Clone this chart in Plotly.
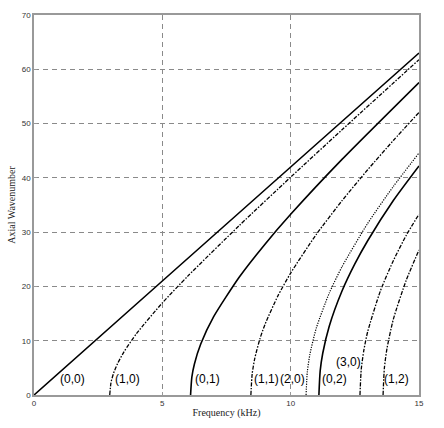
import plotly.graph_objects as go

# Axial wavenumber curves (frequency in kHz)
f_00 = [0.0, 5.0, 10.0, 15.0]
k_00 = [0.0, 21.0, 42.0, 63.0]

f_10 = [2.95, 3.0, 3.1, 3.25, 3.5, 4.0, 5.0, 6.0, 8.0, 10.0, 12.0, 15.0]
k_10 = [0.0, 2.29, 4.0, 5.73, 7.91, 11.35, 16.96, 21.94, 31.23, 40.13, 48.85, 61.77]

f_01 = [6.1, 6.15, 6.25, 6.5, 7.0, 8.0, 9.0, 10.0, 12.0, 15.0]
k_01 = [0.0, 3.29, 5.72, 9.43, 14.42, 21.74, 27.79, 33.28, 43.40, 57.56]

f_11 = [8.45, 8.5, 8.6, 8.8, 9.0, 9.5, 10.0, 11.0, 12.0, 13.0, 14.0, 15.0]
k_11 = [0.0, 3.87, 6.72, 10.32, 13.01, 18.23, 22.46, 29.58, 35.79, 41.49, 46.88, 52.05]

f_20 = [10.6, 10.65, 10.75, 11.0, 11.5, 12.0, 13.0, 14.0, 15.0]
k_20 = [0.0, 4.33, 7.52, 12.35, 18.73, 23.62, 31.61, 38.41, 44.58]

f_02 = [11.1, 11.15, 11.25, 11.5, 12.0, 12.5, 13.0, 14.0, 15.0]
k_02 = [0.0, 4.43, 7.69, 12.63, 19.15, 24.14, 28.42, 35.83, 42.2]

f_30 = [12.7, 12.75, 12.85, 13.0, 13.5, 14.0, 14.5, 15.0]
k_30 = [0.0, 4.74, 8.22, 11.66, 19.23, 24.74, 29.39, 33.3]

f_12 = [13.6, 13.65, 13.75, 14.0, 14.5, 15.0]
k_12 = [0.0, 4.90, 8.51, 13.95, 21.12, 26.7]

mode_labels = ["(0,0)", "(1,0)", "(0,1)", "(1,1)", "(2,0)", "(0,2)", "(3,0)", "(1,2)"]
label_f = [1.5, 3.65, 6.77, 9.07, 10.08, 11.69, 12.27, 14.14]
label_k = [2.9, 2.9, 2.9, 2.9, 2.9, 2.9, 6.1, 2.9]

x_ticks = [0, 5, 10, 15]
y_ticks = [0, 10, 20, 30, 40, 50, 60, 70]

dashdot = "4px,1.5px,1.5px,1.5px"
curves = [
    (f_00, k_00, "solid", 1.6),
    (f_10, k_10, dashdot, 1.3),
    (f_01, k_01, "solid", 1.6),
    (f_11, k_11, dashdot, 1.3),
    (f_20, k_20, "1.2px,1.3px", 1.2),
    (f_02, k_02, "solid", 1.6),
    (f_30, k_30, dashdot, 1.3),
    (f_12, k_12, dashdot, 1.3),
]

fig = go.Figure()
for fx, ky, dash, w in curves:
    fig.add_trace(go.Scatter(x=fx, y=ky, mode="lines",
                             line=dict(color="black", width=w, dash=dash, shape="spline", smoothing=0.6),
                             showlegend=False, hoverinfo="skip"))

for t, fx, ky in zip(mode_labels, label_f, label_k):
    fig.add_annotation(x=fx, y=ky, text=t, showarrow=False,
                       font=dict(family="Liberation Sans, Arial", size=12, color="black"))

axis_common = dict(
    showgrid=True, gridcolor="#8a8a8a", griddash="5px,4px", gridwidth=1,
    showline=True, linecolor="#999999", linewidth=1.5, mirror=True,
    zeroline=False, ticks="inside", ticklen=3, tickcolor="#999999",
    tickfont=dict(family="Liberation Sans, Arial", size=8, color="#333333"),
)

fig.update_layout(
    width=444, height=428,
    margin=dict(l=27, r=25, t=11, b=25),
    paper_bgcolor="white", plot_bgcolor="white",
    xaxis=dict(range=[0, 15], tickvals=x_ticks, ticktext=[str(v) for v in x_ticks],
               title=dict(text="Frequency (kHz)", standoff=2,
                          font=dict(family="Liberation Serif, Times New Roman", size=10, color="#222222")),
               **axis_common),
    yaxis=dict(range=[0, 70], tickvals=y_ticks, ticktext=[str(v) for v in y_ticks],
               title=dict(text="Axial Wavenumber", standoff=4,
                          font=dict(family="Liberation Serif, Times New Roman", size=10, color="#222222")),
               **axis_common),
)

fig.write_html("out.html")
